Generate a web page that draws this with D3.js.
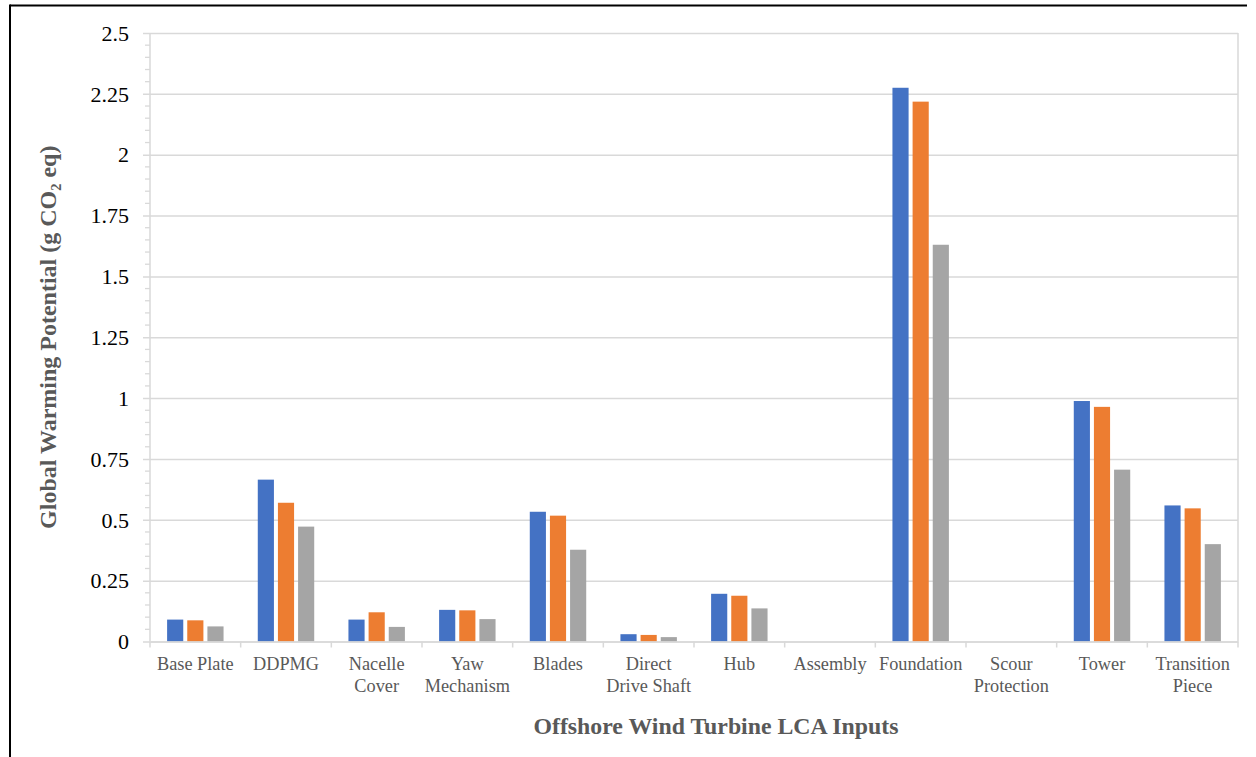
<!DOCTYPE html>
<html>
<head>
<meta charset="utf-8">
<script src="https://cdn.jsdelivr.net/npm/d3@7"></script>
<style>
  html, body { margin: 0; padding: 0; background: #fff; }
  svg { display: block; }
</style>
</head>
<body>
<svg id="chart" width="1256" height="757"></svg>
<script>
// LCA input categories along the x axis
const categories = [
  "Base Plate", "DDPMG", "Nacelle Cover", "Yaw Mechanism", "Blades",
  "Direct Drive Shaft", "Hub", "Assembly", "Foundation",
  "Scour Protection", "Tower", "Transition Piece"
];
// Label lines for each category
const categoryLines = [
  ["Base Plate"], ["DDPMG"], ["Nacelle", "Cover"], ["Yaw", "Mechanism"], ["Blades"],
  ["Direct", "Drive Shaft"], ["Hub"], ["Assembly"], ["Foundation"],
  ["Scour", "Protection"], ["Tower"], ["Transition", "Piece"]
];
// Global warming potential (g CO2 eq) for the three series
const seriesBlue   = [0.090, 0.665, 0.090, 0.130, 0.533, 0.030, 0.196, 0, 2.275, 0, 0.988, 0.559];
const seriesOrange = [0.087, 0.570, 0.120, 0.128, 0.517, 0.027, 0.188, 0, 2.218, 0, 0.964, 0.547];
const seriesGray   = [0.062, 0.472, 0.060, 0.092, 0.377, 0.018, 0.136, 0, 1.630, 0, 0.706, 0.400];
const seriesColors = ["#4472C4", "#ED7D31", "#A5A5A5"];
// Y axis ticks
const yTicks = [0, 0.25, 0.5, 0.75, 1, 1.25, 1.5, 1.75, 2, 2.25, 2.5];
const yTickLabels = ["0", "0.25", "0.5", "0.75", "1", "1.25", "1.5", "1.75", "2", "2.25", "2.5"];
const yMinorStep = 0.05;

const svg = d3.select("#chart");
const plotLeft = 150, plotRight = 1238, plotTop = 33, plotBottom = 641.5;
const axisGray = "#D9D9D9";
const serif = "'Liberation Serif', 'Times New Roman', serif";

// outer chart frame (top and left edges)
svg.append("line").attr("x1", 10).attr("x2", 1247).attr("y1", 5.5).attr("y2", 5.5)
  .attr("stroke", "#000").attr("stroke-width", 2);
svg.append("line").attr("x1", 10).attr("x2", 10).attr("y1", 4.5).attr("y2", 757)
  .attr("stroke", "#000").attr("stroke-width", 2);

const x = d3.scaleBand().domain(categories).range([plotLeft, plotRight]).paddingInner(0).paddingOuter(0);
const y = d3.scaleLinear().domain([0, 2.5]).range([plotBottom, plotTop]);

// Excel-style gap width of 50%: group occupies band / 1.5
const groupW = x.bandwidth() / 1.5;
const xs = d3.scaleBand().domain([0, 1, 2]).range([0, groupW]);

// minor ticks
const minorVals = d3.range(0, 2.5 + 1e-9, yMinorStep)
  .filter(v => Math.abs(v / 0.25 - Math.round(v / 0.25)) > 1e-6);
svg.append("g").selectAll("line").data(minorVals).join("line")
  .attr("x1", plotLeft - 5).attr("x2", plotLeft)
  .attr("y1", d => y(d)).attr("y2", d => y(d))
  .attr("stroke", axisGray).attr("stroke-width", 1.3);

// gridlines, extended left past the axis as major ticks
const yAxis = d3.axisLeft(y).tickValues(yTicks).tickSize(plotRight - plotLeft + 7).tickFormat("");
const gGrid = svg.append("g").attr("transform", `translate(${plotRight},0)`).call(yAxis);
gGrid.select(".domain").remove();
gGrid.selectAll(".tick line").attr("stroke", axisGray).attr("stroke-width", 1.5);

// right border of plot area
svg.append("line").attr("x1", plotRight).attr("x2", plotRight).attr("y1", plotTop).attr("y2", plotBottom)
  .attr("stroke", axisGray).attr("stroke-width", 1.5);
// y axis line
svg.append("line").attr("x1", plotLeft).attr("x2", plotLeft).attr("y1", plotTop).attr("y2", plotBottom)
  .attr("stroke", axisGray).attr("stroke-width", 1.5);

// y tick labels
svg.append("g").selectAll("text").data(yTicks).join("text")
  .attr("x", 129).attr("y", d => y(d)).attr("dy", "0.35em")
  .attr("text-anchor", "end")
  .attr("font-family", serif)
  .attr("font-size", 22).attr("fill", "#000")
  .text((d, i) => yTickLabels[i]);

// bars
const series = [seriesBlue, seriesOrange, seriesGray];
const gBars = svg.append("g");
series.forEach((vals, si) => {
  gBars.append("g").selectAll("rect").data(vals).join("rect")
    .attr("x", (d, i) => x(categories[i]) + (x.bandwidth() - groupW) / 2 + xs(si) + 2)
    .attr("width", xs.bandwidth() - 4)
    .attr("y", d => y(d))
    .attr("height", d => y(0) - y(d))
    .attr("fill", seriesColors[si]);
});

// x axis line and category boundary ticks
const xAxis = d3.axisBottom(x).tickSize(0).tickFormat("");
const gx = svg.append("g").attr("transform", `translate(0,${plotBottom})`).call(xAxis);
gx.select(".domain").attr("stroke", axisGray).attr("stroke-width", 1.5);
gx.selectAll(".tick").remove();
const bounds = categories.map(c => x(c)).concat([plotRight]);
svg.append("g").selectAll("line").data(bounds).join("line")
  .attr("x1", d => d).attr("x2", d => d)
  .attr("y1", plotBottom).attr("y2", plotBottom + 6)
  .attr("stroke", axisGray).attr("stroke-width", 1.5);

// category labels
const gLab = svg.append("g")
  .attr("font-family", serif)
  .attr("font-size", 18.3).attr("fill", "#595959").attr("text-anchor", "middle");
categories.forEach((c, i) => {
  const cx = x(c) + x.bandwidth() / 2;
  const t = gLab.append("text").attr("x", cx).attr("y", 670);
  categoryLines[i].forEach((ln, k) => {
    t.append("tspan").attr("x", cx).attr("dy", k === 0 ? 0 : 22).text(ln);
  });
});

// axis titles
svg.append("text")
  .attr("x", 716).attr("y", 734)
  .attr("text-anchor", "middle")
  .attr("font-family", serif)
  .attr("font-size", 23.8).attr("font-weight", "bold").attr("fill", "#595959")
  .text("Offshore Wind Turbine LCA Inputs");

svg.append("text")
  .attr("transform", `translate(56,${(plotTop + plotBottom) / 2}) rotate(-90)`)
  .attr("text-anchor", "middle")
  .attr("font-family", serif)
  .attr("font-size", 24).attr("font-weight", "bold").attr("fill", "#595959")
  .text("Global Warming Potential (g CO₂ eq)");
</script>
</body>
</html>
